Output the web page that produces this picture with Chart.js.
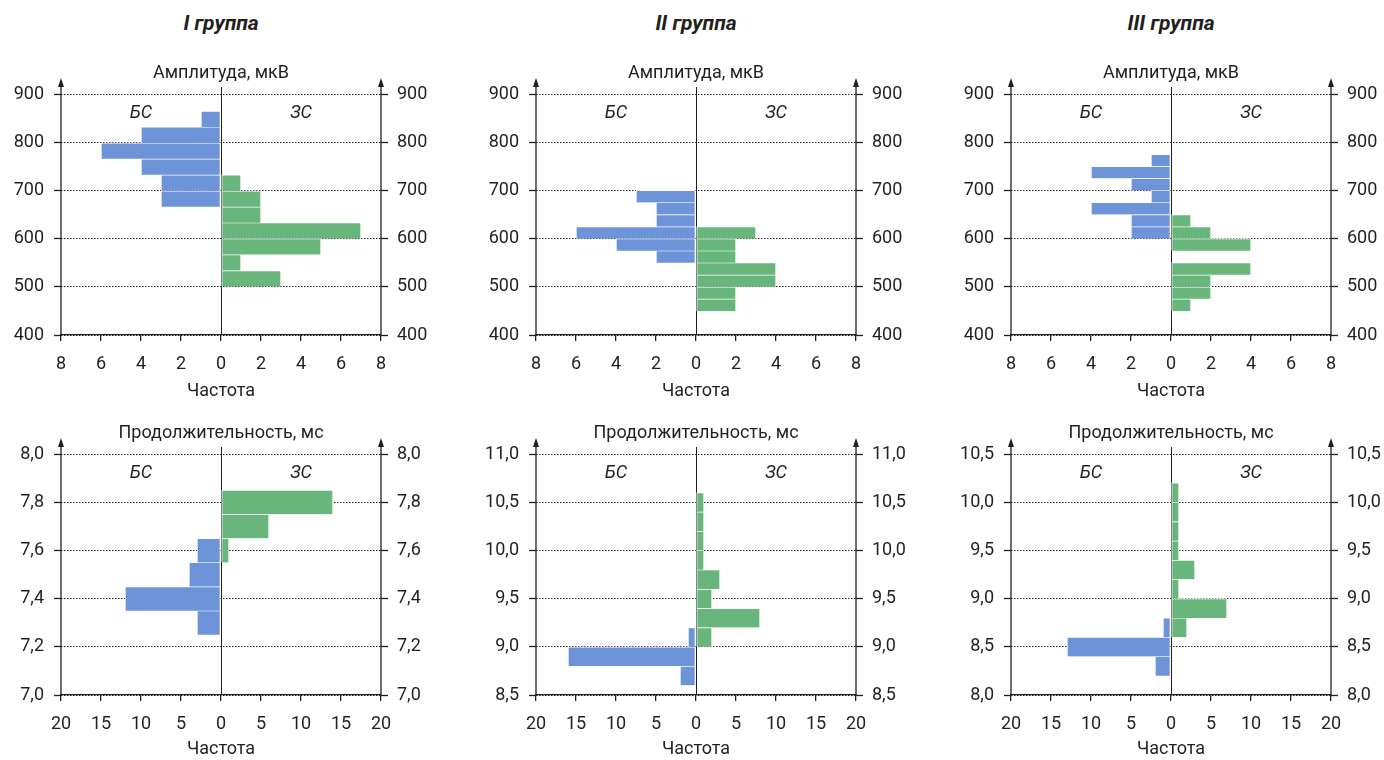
<!DOCTYPE html>
<html lang="ru">
<head>
<meta charset="utf-8">
<title>Амплитуда и продолжительность</title>
<script src="https://cdn.jsdelivr.net/npm/chart.js@4.4.1/dist/chart.umd.min.js"></script>
<style>
  html, body { margin: 0; padding: 0; background: #fff; overflow: hidden; }
  #page { position: relative; width: 1384px; height: 760px; }
  .group {
    position: absolute; top: 11px; width: 300px; margin-left: -150px;
    text-align: center; font: italic bold 21px Roboto, sans-serif; color: #231f20;
  }
  canvas { position: absolute; }
</style>
</head>
<body>
<div id="page">
  <div class="group" style="left:221px">I группа</div>
  <div class="group" style="left:696px">II группа</div>
  <div class="group" style="left:1171px">III группа</div>
  <canvas id="amp1" width="434" height="362" style="left:0px;top:40px"></canvas>
  <canvas id="amp2" width="434" height="362" style="left:475px;top:40px"></canvas>
  <canvas id="amp3" width="434" height="362" style="left:950px;top:40px"></canvas>
  <canvas id="dur1" width="434" height="360" style="left:0px;top:400px"></canvas>
  <canvas id="dur2" width="434" height="360" style="left:475px;top:400px"></canvas>
  <canvas id="dur3" width="434" height="360" style="left:950px;top:400px"></canvas>
</div>
<script>
// Амплитуда, мкВ — центры интервалов и частоты (БС / ЗС)
const ampCenters1 = [517.2, 550.3, 583.4, 616.5, 649.6, 682.7, 715.8, 748.9, 782.0, 815.1, 848.2];
const ampBS1 = [0, 0, 0, 0, 0, 3, 3, 4, 6, 4, 1];
const ampZS1 = [3, 1, 5, 7, 2, 2, 1, 0, 0, 0, 0];

const ampCenters2 = [462.5, 487.5, 512.5, 537.5, 562.5, 587.5, 612.5, 637.5, 662.5, 687.5];
const ampBS2 = [0, 0, 0, 0, 2, 4, 6, 2, 2, 3];
const ampZS2 = [2, 2, 4, 4, 2, 2, 3, 0, 0, 0];

const ampCenters3 = [462.5, 487.5, 512.5, 537.5, 562.5, 587.5, 612.5, 637.5, 662.5, 687.5, 712.5, 737.5, 762.5];
const ampBS3 = [0, 0, 0, 0, 0, 0, 2, 2, 4, 1, 2, 4, 1];
const ampZS3 = [1, 2, 2, 4, 0, 4, 2, 1, 0, 0, 0, 0, 0];

// Продолжительность, мс
const durCenters1 = [7.3, 7.4, 7.5, 7.6, 7.7, 7.8];
const durBS1 = [3, 12, 4, 3, 0, 0];
const durZS1 = [0, 0, 0, 1, 6, 14];

const durCenters2 = [8.7, 8.9, 9.1, 9.3, 9.5, 9.7, 9.9, 10.1, 10.3, 10.5];
const durBS2 = [2, 16, 1, 0, 0, 0, 0, 0, 0, 0];
const durZS2 = [0, 0, 2, 8, 2, 3, 1, 1, 1, 1];

const durCenters3 = [8.3, 8.5, 8.7, 8.9, 9.1, 9.3, 9.5, 9.7, 9.9, 10.1];
const durBS3 = [2, 13, 1, 0, 0, 0, 0, 0, 0, 0];
const durZS3 = [0, 0, 2, 7, 1, 3, 1, 1, 1, 1];

// Пределы осей
const ampRange = [400, 900, 100];
const durRange1 = [7.0, 8.0, 0.2];
const durRange2 = [8.5, 11.0, 0.5];
const durRange3 = [8.0, 10.5, 0.5];
const ampFreq = [8, 2];
const durFreq = [20, 5];

const ink = '#231f20';
const blue = '#6d93d8';
const green = '#69b67c';

Chart.defaults.font.family = 'Roboto, sans-serif';
Chart.defaults.font.size = 18;
Chart.defaults.color = ink;

const decor = {
  id: 'decor',
  beforeDatasetsDraw(chart) {
    const {ctx, chartArea: a, scales: {x}} = chart;
    const x0 = Math.round(x.getPixelForValue(0)) + 0.5;
    ctx.save();
    ctx.strokeStyle = ink;
    ctx.lineWidth = 1;
    ctx.beginPath();
    ctx.moveTo(x0, a.top - 7);
    ctx.lineTo(x0, a.bottom);
    ctx.stroke();
    ctx.restore();
  },
  afterDraw(chart, args, opts) {
    const {ctx, chartArea: a, scales: {x}} = chart;
    ctx.save();
    ctx.strokeStyle = ink;
    ctx.fillStyle = ink;
    ctx.lineWidth = 1.3;
    // вертикальные оси со стрелками
    [a.left, a.right].forEach(px => {
      ctx.beginPath();
      ctx.moveTo(px, a.bottom);
      ctx.lineTo(px, a.top - 9);
      ctx.stroke();
      ctx.beginPath();
      ctx.moveTo(px, a.top - 16);
      ctx.lineTo(px - 3, a.top - 7);
      ctx.lineTo(px + 3, a.top - 7);
      ctx.closePath();
      ctx.fill();
    });
    // подпись величины
    ctx.textAlign = 'center';
    ctx.textBaseline = 'middle';
    ctx.font = '18px Roboto, sans-serif';
    ctx.fillText(opts.title, (a.left + a.right) / 2, a.top - 21);
    // БС / ЗС
    ctx.font = 'italic 18px Roboto, sans-serif';
    const half = x.max / 2;
    ctx.fillText('БС', x.getPixelForValue(-half), a.top + 19);
    ctx.fillText('ЗС', x.getPixelForValue(half), a.top + 19);
    ctx.restore();
  }
};

function toPoints(centers, counts, sign) {
  return centers.map((c, i) => ({ y: c, x: counts[i] ? sign * counts[i] : null }));
}

function makeChart(id, title, centers, bs, zs, range, freq, decimals, axisHeight) {
  const fmt = v => decimals ? v.toFixed(1).replace('.', ',') : String(v);
  const yTicks = { stepSize: range[2], callback: fmt, padding: 10 };
  const barStyle = {
    grouped: false,
    categoryPercentage: 1,
    barPercentage: 1,
    borderColor: '#ffffff',
    borderWidth: { top: 1, bottom: 0, left: 1, right: 1 },
    borderSkipped: false
  };
  return new Chart(document.getElementById(id), {
    type: 'bar',
    data: {
      datasets: [
        Object.assign({ label: 'БС', data: toPoints(centers, bs, -1), backgroundColor: blue }, barStyle),
        Object.assign({ label: 'ЗС', data: toPoints(centers, zs, 1), backgroundColor: green }, barStyle)
      ]
    },
    options: {
      indexAxis: 'y',
      responsive: false,
      animation: false,
      layout: { padding: { top: 54, left: 0, right: 0, bottom: 0 } },
      plugins: {
        legend: { display: false },
        tooltip: { enabled: false },
        decor: { title: title }
      },
      scales: {
        x: {
          type: 'linear',
          min: -freq[0], max: freq[0],
          offset: false,
          ticks: { stepSize: freq[1], callback: v => String(Math.abs(v)), padding: 13 },
          grid: { offset: false, drawOnChartArea: false, drawTicks: true, tickLength: 6, color: ink, lineWidth: 1.3 },
          border: { display: true, color: ink, width: 1.3 },
          title: { display: true, text: 'Частота', font: { size: 18 }, padding: { top: 0, bottom: 0 } },
          afterFit: s => { s.height = axisHeight; }
        },
        y: {
          type: 'linear',
          position: 'left',
          offset: false,
          min: range[0], max: range[1],
          ticks: yTicks,
          grid: { offset: false, color: ink, lineWidth: 1, tickLength: 7, tickColor: ink, tickWidth: 1.3 },
          border: { display: false, dash: [1.5, 1.5] },
          afterFit: s => { s.width = 61; }
        },
        y2: {
          type: 'linear',
          position: 'right',
          offset: false,
          min: range[0], max: range[1],
          ticks: Object.assign({}, yTicks, { padding: 9 }),
          grid: { offset: false, drawOnChartArea: false, tickLength: 7, color: ink, tickWidth: 1.3 },
          border: { display: false },
          afterFit: s => { s.width = 53; }
        }
      }
    },
    plugins: [decor]
  });
}

makeChart('amp1', 'Амплитуда, мкВ', ampCenters1, ampBS1, ampZS1, ampRange, ampFreq, false, 67);
makeChart('amp2', 'Амплитуда, мкВ', ampCenters2, ampBS2, ampZS2, ampRange, ampFreq, false, 67);
makeChart('amp3', 'Амплитуда, мкВ', ampCenters3, ampBS3, ampZS3, ampRange, ampFreq, false, 67);
makeChart('dur1', 'Продолжительность, мс', durCenters1, durBS1, durZS1, durRange1, durFreq, true, 65);
makeChart('dur2', 'Продолжительность, мс', durCenters2, durBS2, durZS2, durRange2, durFreq, true, 65);
makeChart('dur3', 'Продолжительность, мс', durCenters3, durBS3, durZS3, durRange3, durFreq, true, 65);
</script>
</body>
</html>
